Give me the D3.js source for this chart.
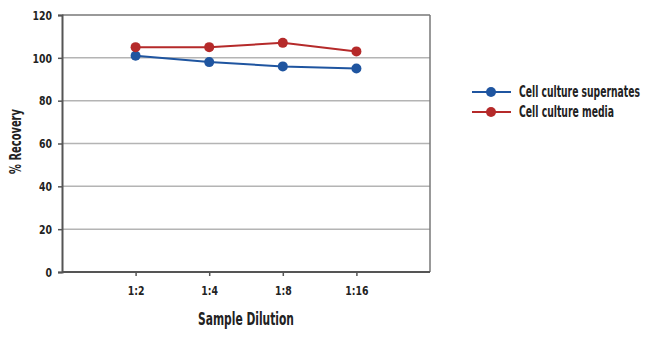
<!DOCTYPE html>
<html><head><meta charset="utf-8">
<script src="https://cdn.jsdelivr.net/npm/d3@7"></script>
<style>
body{margin:0;background:#fff;}
text{font-family:"DejaVu Sans","Liberation Sans",sans-serif;font-stretch:condensed;font-weight:bold;fill:#222;}
</style></head><body>
<svg id="c" width="650" height="338"></svg>
<script>
const categories = ["1:2","1:4","1:8","1:16"];
const supernates = [101, 98, 96, 95];
const media = [105, 105, 107, 103];
const yTicks = [0,20,40,60,80,100,120];
const seriesNames = ["Cell culture supernates","Cell culture media"];
const seriesColors = ["#1f55a0","#b52a2a"];

const svg = d3.select("#c");
const L=62, R=430, T=15, B=272;
const x = d3.scalePoint().domain(categories).range([L,R]).padding(1);
const y = d3.scaleLinear().domain([0,120]).range([B,T]);

// place a text narrowed horizontally via a transform on its own group
function narrowText(parent, str, px, py, size, target, anchor, rotate){
  const g = parent.append("g");
  const t = g.append("text").attr("text-anchor",anchor).style("font-size",size+"px").text(str);
  const w = t.node().getComputedTextLength();
  const s = Math.min(1, target / w);
  g.attr("transform",`translate(${px},${py})${rotate?` rotate(${rotate})`:""} scale(${s},1)`);
  return t;
}

// gridlines
svg.append("g").selectAll("line").data(yTicks.filter(d=>d>0)).join("line")
  .attr("x1",L).attr("x2",R).attr("y1",d=>y(d)).attr("y2",d=>y(d))
  .attr("stroke",d=>d===120?"#777":"#b4b4b4").attr("stroke-width",1.5);
// right border
svg.append("line").attr("x1",R).attr("x2",R).attr("y1",T).attr("y2",B).attr("stroke","#777").attr("stroke-width",1.5);

// y axis
const ya = svg.append("g").attr("transform",`translate(${L},0)`)
  .call(d3.axisLeft(y).tickValues(yTicks).tickSize(4).tickPadding(6));
ya.select(".domain").attr("stroke","#555").attr("stroke-width",2);
ya.selectAll(".tick line").attr("stroke","#555").attr("stroke-width",1.5);
ya.selectAll("text").style("font-size","13px").attr("fill","#222")
  .attr("transform","scale(0.8,1)").attr("x",-10/0.8);

// x axis
const xa = svg.append("g").attr("transform",`translate(0,${B})`)
  .call(d3.axisBottom(x).tickSize(4).tickSizeOuter(0).tickPadding(10));
xa.select(".domain").attr("stroke","#555").attr("stroke-width",2).attr("d",`M${L},0H${R}`);
xa.selectAll(".tick line").attr("stroke","#555").attr("stroke-width",1.5);
xa.selectAll("text").style("font-size","13px").attr("fill","#222").attr("transform","scale(0.8,1)");

// titles
narrowText(svg, "Sample Dilution", (L+R)/2, 325, 17, 96, "middle", 0);
narrowText(svg, "% Recovery", 21, (T+B)/2-2, 16, 65, "middle", -90);

const line = d3.line().x((d,i)=>x(categories[i])).y(d=>y(d));
[supernates, media].forEach((vals,si)=>{
  const g = svg.append("g");
  g.append("path").datum(vals).attr("d",line).attr("fill","none")
    .attr("stroke",seriesColors[si]).attr("stroke-width",2);
  g.selectAll("circle").data(vals).join("circle")
    .attr("cx",(d,i)=>x(categories[i])).attr("cy",d=>y(d)).attr("r",5)
    .attr("fill",seriesColors[si]);
});

// legend
const legendWidths = [121, 95];
const lg = svg.append("g");
seriesNames.forEach((n,i)=>{
  const yy = 92 + i*20;
  lg.append("line").attr("x1",472).attr("x2",511).attr("y1",yy).attr("y2",yy)
    .attr("stroke",seriesColors[i]).attr("stroke-width",2);
  lg.append("circle").attr("cx",491).attr("cy",yy).attr("r",5).attr("fill",seriesColors[i]);
  narrowText(lg, n, 519, yy+5, 15, legendWidths[i], "start", 0);
});
</script></body></html>
